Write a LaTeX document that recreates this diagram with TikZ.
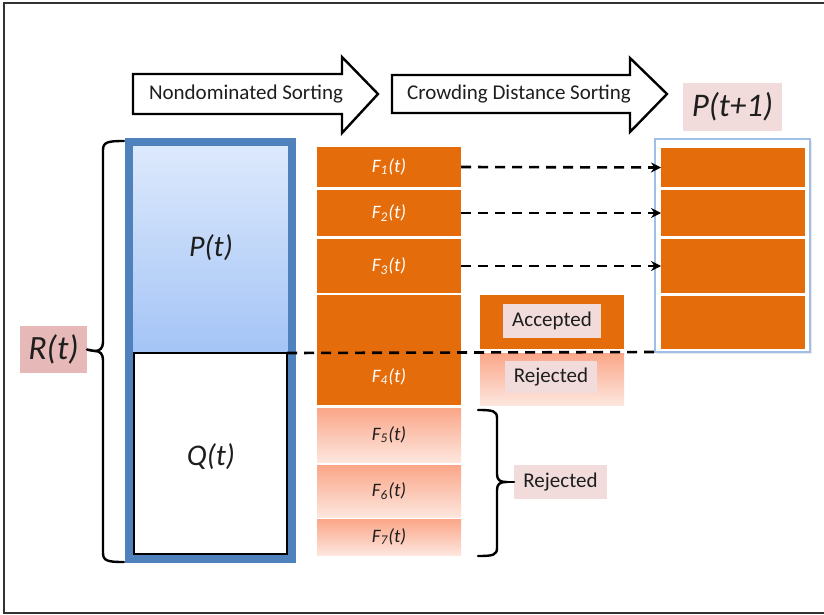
\documentclass[tikz,border=0pt]{standalone}
\usepackage{fontspec}
\setmainfont{Carlito}
\usetikzlibrary{arrows.meta}
\definecolor{orng}{RGB}{228,108,10}
\definecolor{lpink}{RGB}{242,220,219}
\definecolor{dpink}{RGB}{230,185,184}
\definecolor{bblue}{RGB}{79,129,189}
\definecolor{ptop}{RGB}{222,234,252}
\definecolor{pbot}{RGB}{164,196,246}
\definecolor{stop}{RGB}{251,166,136}
\definecolor{sbot}{RGB}{253,230,222}
\definecolor{cblue}{RGB}{160,190,230}
\definecolor{framegray}{RGB}{50,50,50}
\definecolor{txt}{RGB}{30,30,30}
\newcommand\boxat[7]{\node[#6, minimum width={(#4-#2)*0.5pt}, minimum height={(#5-#3)*0.5pt}] (#1) at ({(#2+#4)/2},{(#3+#5)/2}) {#7};}
\tikzset{
  rbox/.style={rectangle, inner sep=0pt, outer sep=0pt},
  ob/.style={rbox, fill=orng},
  sb/.style={rbox, top color=stop, bottom color=sbot},
  lab/.style={rbox, fill=lpink},
  ft/.style={font=\fontsize{9.5}{10}\selectfont\itshape, text=white},
  fd/.style={font=\fontsize{9.5}{10}\selectfont\itshape, text=txt},
  lt/.style={font=\fontsize{10.5}{12}\selectfont, text=txt},
  big/.style={font=\fontsize{15}{16}\selectfont\itshape, text=txt},
  bigarrow/.style={fill=white, draw=black, line width=1.2pt, line join=miter},
  dl/.style={line width=1.3pt, dash pattern=on 5pt off 3.5pt},
  brc/.style={line width=1.2pt, line cap=round},
}
\begin{document}
\begin{tikzpicture}[x=0.5pt, y=-0.5pt]
\useasboundingbox (0,0) rectangle (824,615);
% outer frame
\draw[line width=1pt, framegray] (824,3) -- (4,3) -- (4,613) -- (824,613);

% big arrows
\draw[bigarrow] (133,74) -- (342,74) -- (342,57) -- (378,94) -- (342,133) -- (342,114) -- (133,114) -- cycle;
\node[lt] (nds) at (246,94) {Nondominated Sorting};
\draw[bigarrow] (392,75) -- (630,75) -- (630,58) -- (667,94) -- (630,132) -- (630,113) -- (392,113) -- cycle;
\node[lt] (cds) at (519,94) {Crowding Distance Sorting};

% P(t+1) label
\boxat{pl}{683}{83}{782}{131}{lab, big, font=\fontsize{16.5}{18}\selectfont\itshape}{P(t+1)}

% R(t) block
\boxat{pt}{129}{142}{292}{352}{rbox, top color=ptop, bottom color=pbot}{}
\node[big] (ptl) at (211,248) {P(t)};
\boxat{qt}{134}{353}{287}{554}{rbox, fill=white, draw=black, line width=1pt}{}
\node[big] (qtl) at (211,457) {Q(t)};
\boxat{rframe}{129}{142}{292}{559}{rbox, draw=bblue, line width=4pt}{}

% R(t) label and brace
\boxat{rt}{20}{326}{87}{373}{lab, fill=dpink, big, font=\fontsize{17}{18}\selectfont\itshape}{R(t)}
\coordinate (btip) at (95,351);
\draw[brc] (124,141) .. controls (108,141) and (103,142) .. (103,150) -- (103,342)
  .. controls (103,348) and (100,351) .. (btip)
  .. controls (100,351) and (103,354) .. (103,360) -- (103,553)
  .. controls (103,561) and (108,562) .. (124,562);
\draw[brc] (rt.east) -- (btip);

% fronts
\boxat{f1}{317}{147}{461}{187}{ob, ft}{F\textsubscript{1}(t)}
\boxat{f2}{317}{190}{461}{236}{ob, ft}{F\textsubscript{2}(t)}
\boxat{f3}{317}{239}{461}{293}{ob, ft}{F\textsubscript{3}(t)}
\boxat{f4}{317}{295}{461}{405}{ob}{}
\node[ft] (f4l) at (389,377) {F\textsubscript{4}(t)};
\boxat{f5}{317}{408}{461}{462}{sb, fd}{F\textsubscript{5}(t)}
\boxat{f6}{317}{465}{461}{517}{sb, fd}{F\textsubscript{6}(t)}
\boxat{f7}{317}{519}{461}{555}{sb, fd}{F\textsubscript{7}(t)}

% accepted / rejected split of F4
\boxat{acc}{480}{295}{624}{349}{ob}{}
\boxat{rej}{480}{353}{624}{405}{sb}{}
\boxat{accl}{503}{304}{601}{338}{lab, lt}{Accepted}
\boxat{rejl}{505}{361}{597}{393}{lab, lt}{Rejected}

% rejected brace
\coordinate (rtip) at (506,482);
\draw[brc] (478,410) .. controls (493,410) and (497,411) .. (497,418) -- (497,474)
  .. controls (497,480) and (500,482) .. (rtip)
  .. controls (500,482) and (497,484) .. (497,490) -- (497,548)
  .. controls (497,555) and (493,556) .. (478,556);
\boxat{rej2}{514}{465}{607}{499}{lab, lt}{Rejected}
\draw[brc] (rtip) -- (rej2.west);

% P(t+1) container
\fill[black!9] (657,141) rectangle (812,354);
\boxat{cont}{655}{139}{810}{352}{rbox, draw=cblue, line width=1pt, fill=white}{}
\boxat{p1}{661}{148}{805}{187}{ob}{}
\boxat{p2}{661}{190}{805}{236}{ob}{}
\boxat{p3}{661}{239}{805}{293}{ob}{}
\boxat{p4}{661}{296}{805}{349}{ob}{}

% dashed connectors
\draw[dl, -{Stealth[length=5pt, width=5pt]}] (f1.east) -- (p1.west);
\draw[dl, -{Stealth[length=5pt, width=5pt]}] (f2.east) -- (p2.west);
\draw[dl, -{Stealth[length=5pt, width=5pt]}] (f3.east) -- (p3.west);
\draw[dl] (qt.north east) -- (cont.south west);
\end{tikzpicture}
\end{document}
